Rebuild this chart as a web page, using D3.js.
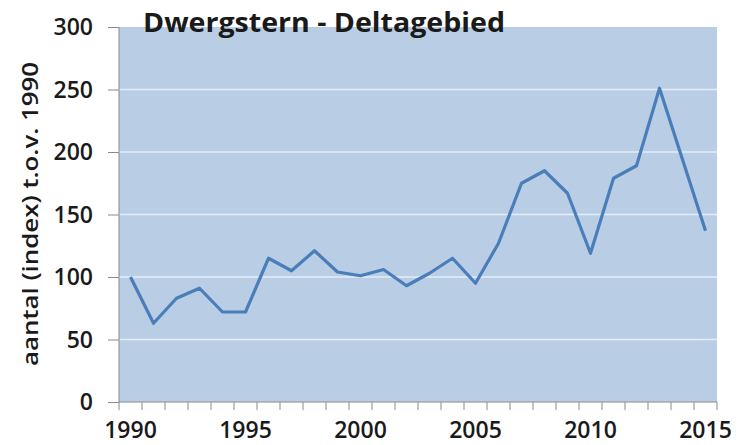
<!DOCTYPE html>
<html>
<head>
<meta charset="utf-8">
<script src="https://cdn.jsdelivr.net/npm/d3@7"></script>
<style>
  body { margin: 0; background: #fff; }
  svg text { font-family: "Open Sans", "DejaVu Sans", sans-serif; fill: #1a1a1a; }
</style>
</head>
<body>
<div id="chart"></div>
<script>
// index values, 1990 = 100
var years = d3.range(1990, 2016);
var index = [100, 63, 83, 91, 72, 72, 115, 105, 121, 104, 101, 106, 93, 103, 115, 95,
             127, 175, 185, 167, 119, 179, 189, 251, 194, 137];
var yTicks = [0, 50, 100, 150, 200, 250, 300];
var xLabels = [1990, 1995, 2000, 2005, 2010, 2015];

var W = 745, H = 445;
var margin = {top: 27, right: 28, bottom: 43, left: 119};

var svg = d3.select("#chart").append("svg")
  .attr("width", W)
  .attr("height", H);

var x = d3.scaleBand()
  .domain(years)
  .range([margin.left, W - margin.right]);

var y = d3.scaleLinear()
  .domain([0, 300])
  .range([H - margin.bottom, margin.top]);

// plot background
svg.append("rect")
  .attr("x", margin.left)
  .attr("y", margin.top)
  .attr("width", W - margin.right - margin.left)
  .attr("height", y(0) - margin.top)
  .attr("fill", "#b9cde5");

// gridlines
svg.selectAll(".grid")
  .data(yTicks.filter(function(d) { return d > 0 && d < 300; }))
  .enter().append("line")
  .attr("x1", margin.left)
  .attr("x2", W - margin.right)
  .attr("y1", function(d) { return y(d); })
  .attr("y2", function(d) { return y(d); })
  .attr("stroke", "#e4edf7")
  .attr("stroke-width", 1.5);

// y axis
var yAxis = svg.append("g")
  .attr("transform", "translate(" + margin.left + ",0)")
  .call(d3.axisLeft(y).tickValues(yTicks).tickSize(11).tickPadding(15));
yAxis.selectAll("text").attr("font-size", 23).attr("font-weight", 600).attr("dy", "0.33em");
yAxis.selectAll("line, path").attr("stroke", "#8a8a8a");
yAxis.select(".domain").attr("d", "M0," + y(0) + "V" + margin.top);

// x axis: ticks between categories, labels every 5 years
var xg = svg.append("g").attr("transform", "translate(0," + y(0) + ")");
xg.append("line")
  .attr("x1", margin.left).attr("x2", W - margin.right)
  .attr("stroke", "#8a8a8a");
xg.selectAll(".tk")
  .data(years.concat([2016]))
  .enter().append("line")
  .attr("x1", function(d) { return d === 2016 ? x(2015) + x.bandwidth() : x(d); })
  .attr("x2", function(d) { return d === 2016 ? x(2015) + x.bandwidth() : x(d); })
  .attr("y1", 0).attr("y2", 8)
  .attr("stroke", "#8a8a8a");
xg.selectAll(".lb")
  .data(xLabels)
  .enter().append("text")
  .attr("x", function(d) { return x(d) + x.bandwidth() / 2; })
  .attr("y", 36)
  .attr("text-anchor", "middle")
  .attr("font-size", 23)
  .attr("font-weight", 600)
  .text(function(d) { return d; });

// line
var line = d3.line()
  .x(function(d, i) { return x(years[i]) + x.bandwidth() / 2; })
  .y(function(d) { return y(d); });

svg.append("path")
  .datum(index)
  .attr("d", line)
  .attr("fill", "none")
  .attr("stroke", "#4a7ebb")
  .attr("stroke-width", 3.2)
  .attr("stroke-linejoin", "round");

// title
svg.append("text")
  .attr("x", 143)
  .attr("y", 32)
  .attr("font-size", 26)
  .attr("font-weight", 700)
  .attr("textLength", 362)
  .attr("lengthAdjust", "spacingAndGlyphs")
  .text("Dwergstern - Deltagebied");

// y axis title
svg.append("text")
  .attr("transform", "translate(38,214) rotate(-90)")
  .attr("text-anchor", "middle")
  .attr("font-size", 22)
  .attr("font-weight", 600)
  .attr("textLength", 304)
  .attr("lengthAdjust", "spacingAndGlyphs")
  .text("aantal  (index) t.o.v. 1990");
</script>
</body>
</html>
